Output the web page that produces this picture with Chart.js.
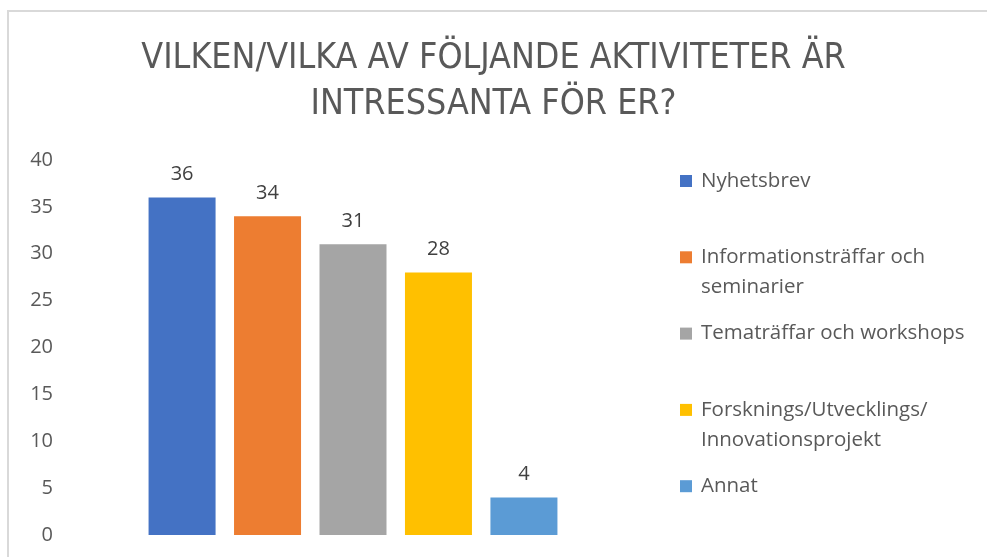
<!DOCTYPE html>
<html>
<head>
<meta charset="utf-8">
<script src="https://cdn.jsdelivr.net/npm/chart.js@4.4.1/dist/chart.umd.min.js"></script>
<style>
  html, body { margin:0; padding:0; background:#fff; }
  #wrap { position:relative; width:987px; height:557px; overflow:hidden; }
  #frame { position:absolute; left:7px; top:10px; width:1000px; height:600px;
           border-top:2px solid #d9d9d9; border-left:2px solid #d9d9d9; box-sizing:border-box; }
  canvas { position:absolute; left:0; top:0; }
</style>
</head>
<body>
<div id="wrap">
  <div id="frame"></div>
  <canvas id="chart" width="987" height="557"></canvas>
</div>
<script>
const TITLE_LINES = ["VILKEN/VILKA AV FÖLJANDE AKTIVITETER ÄR", "INTRESSANTA FÖR ER?"];
const SERIES = ["Nyhetsbrev", "Informationsträffar och seminarier", "Tematräffar och workshops",
                "Forsknings/Utvecklings/Innovationsprojekt", "Annat"];
const VALUES = [36, 34, 31, 28, 4];
const COLORS = ["#4472C4", "#ED7D31", "#A5A5A5", "#FFC000", "#5B9BD5"];
const Y_TICKS = [0, 5, 10, 15, 20, 25, 30, 35, 40];

const FONT = "'DejaVu Sans Condensed', sans-serif";
const BODY = "'Open Sans', sans-serif";

// wraps a legend label the way Excel does (break after spaces or slashes)
function wrapLabel(ctx, text, maxW){
  const parts = text.match(/[^ \/]+[ \/]?/g);
  const lines = [];
  let cur = "";
  parts.forEach(p=>{
    if (cur && ctx.measureText((cur + p).trim()).width > maxW) {
      lines.push(cur.trim());
      cur = p;
    } else cur += p;
  });
  if (cur) lines.push(cur.trim());
  return lines;
}

const valueLabels = {
  id: "valueLabels",
  afterDatasetsDraw(chart){
    const ctx = chart.ctx;
    ctx.save();
    ctx.font = "20px " + BODY;
    ctx.fillStyle = "#404040";
    ctx.textAlign = "center";
    ctx.textBaseline = "alphabetic";
    chart.data.datasets.forEach((ds, i)=>{
      chart.getDatasetMeta(i).data.forEach((bar, j)=>{
        ctx.fillText(String(ds.data[j]), bar.x, bar.y - 17);
      });
    });
    ctx.restore();
  }
};

const sideLegend = {
  id: "sideLegend",
  afterDraw(chart, args, opts){
    const ctx = chart.ctx;
    ctx.save();
    ctx.font = opts.fontSize + "px " + BODY;
    ctx.textBaseline = "middle";
    ctx.textAlign = "left";
    chart.data.datasets.forEach((ds, i)=>{
      const y0 = opts.top + i * opts.slot;
      ctx.fillStyle = ds.backgroundColor;
      ctx.fillRect(opts.left, y0 - opts.box/2, opts.box, opts.box);
      ctx.fillStyle = "#595959";
      wrapLabel(ctx, ds.label, opts.maxWidth).forEach((line, k)=>{
        ctx.fillText(line, opts.left + opts.box + 9, y0 + k * opts.lineGap);
      });
    });
    ctx.restore();
  }
};

new Chart(document.getElementById("chart"), {
  type: "bar",
  data: {
    labels: [""],
    datasets: SERIES.map((name, i)=>({
      label: name,
      data: [VALUES[i]],
      backgroundColor: COLORS[i],
      borderWidth: 0,
      barPercentage: 0.784,
      categoryPercentage: 0.755
    }))
  },
  options: {
    responsive: false,
    animation: false,
    layout: { padding: { left: 0, right: 0, top: 0, bottom: 22 } },
    plugins: {
      legend: { display: false },
      tooltip: { enabled: false },
      title: {
        display: true,
        text: TITLE_LINES,
        color: "#595959",
        font: { family: FONT, size: 35.5, weight: "normal", lineHeight: 1.29 },
        padding: { top: 36, bottom: 32.4 }
      },
      sideLegend: { left: 680, top: 181, slot: 76.3, lineGap: 30, box: 12, fontSize: 20.5, maxWidth: 290 }
    },
    scales: {
      x: { display: false },
      y: {
        min: 0, max: 40,
        afterBuildTicks(scale){ scale.ticks = Y_TICKS.map(v=>({value:v})); },
        afterFit(scale){ scale.width = 70; },
        grid: { display: false },
        border: { display: false },
        ticks: { color: "#595959", padding: 9, font: { family: BODY, size: 20 } }
      },
      // empty axis that keeps the right side free for the legend
      side: {
        position: "right",
        afterFit(scale){ scale.width = 351; },
        grid: { display: false },
        border: { display: false },
        ticks: { display: false }
      }
    }
  },
  plugins: [valueLabels, sideLegend]
});
</script>
</body>
</html>
